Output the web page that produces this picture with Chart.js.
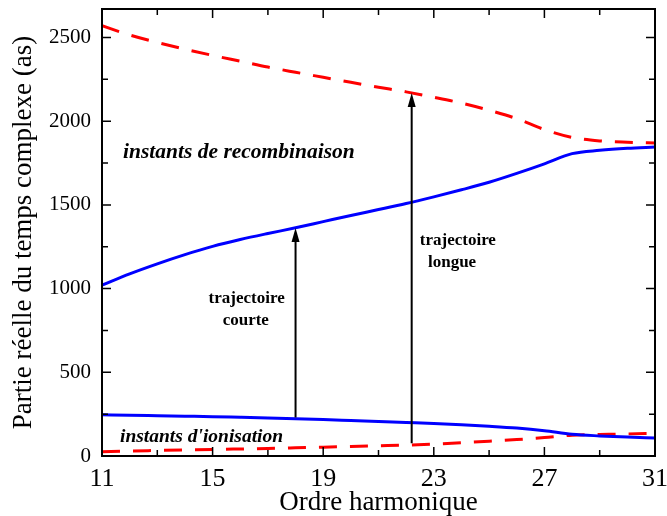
<!DOCTYPE html>
<html>
<head>
<meta charset="utf-8">
<style>
  html, body { margin: 0; padding: 0; background: #fff; }
  #wrap { width: 667px; height: 516px; }
</style>
</head>
<body>
<div id="wrap"><canvas id="tempsChart"></canvas></div>
<script src="https://cdn.jsdelivr.net/npm/chart.js"></script>
<script>
  // harmonic orders where each curve is sampled
  const ordres = [11, 12, 13, 14, 15, 16, 17, 18, 19, 20, 21, 22, 23, 24, 25, 26, 27, 28, 29, 30, 31];

  // real part of the complex times (as)
  const recombCourte = [1020, 1088, 1148, 1203, 1252, 1293, 1329, 1363, 1400, 1437, 1472, 1508, 1548, 1590, 1635, 1688, 1745, 1806, 1826, 1838, 1845];
  const recombLongue = [2570, 2515, 2470, 2430, 2393, 2358, 2323, 2292, 2262, 2232, 2203, 2175, 2143, 2108, 2065, 2015, 1950, 1903, 1882, 1874, 1870];
  const ionisCourte = [246, 244, 241, 238, 235, 231, 227, 223, 218, 212, 206, 200, 194, 187, 178, 167, 151, 130, 120, 113, 108];
  const ionisLongue = [26, 30, 33, 36, 39, 42, 45, 49, 53, 57, 61, 65, 71, 79, 88, 98, 110, 124, 128, 132, 135];

  const xTicks = [11, 15, 19, 23, 27, 31];
  const xMinorTicks = [13, 17, 21, 25, 29];
  const yTicks = [0, 500, 1000, 1500, 2000, 2500];
  const yMinorTicks = [250, 750, 1250, 1750, 2250];

  // arrows from ionisation to recombination
  const arrowOrdre = [18, 22.2];
  const arrowFrom = [230, 76];
  const arrowTo = [1362, 2169];

  const serif = "'Liberation Serif', 'Times New Roman', serif";

  const notes = [
    { text: "instants de recombinaison", x: 11.76, y: 1780, font: "italic bold 21.5px " + serif, align: "left" },
    { text: "instants d'ionisation", x: 11.65, y: 84, font: "italic bold 19.5px " + serif, align: "left" },
    { text: "trajectoire", x: 16.23, y: 913, font: "bold 17px " + serif, align: "center" },
    { text: "courte", x: 16.2, y: 782, font: "bold 17px " + serif, align: "center" },
    { text: "trajectoire", x: 23.87, y: 1260, font: "bold 17px " + serif, align: "center" },
    { text: "longue", x: 23.66, y: 1130, font: "bold 17px " + serif, align: "center" }
  ];

  function series(values) {
    return ordres.map((o, i) => ({ x: o, y: values[i] }));
  }

  function lineSet(values, color, dashed) {
    return {
      data: series(values),
      borderColor: color,
      borderWidth: 3,
      borderDash: dashed ? [18, 13] : [],
      pointRadius: 0,
      cubicInterpolationMode: "monotone",
      fill: false
    };
  }

  // frame, inward ticks, arrows and labels
  const decor = {
    id: "decor",
    afterDatasetsDraw(chart) {
      const ctx = chart.ctx;
      const area = chart.chartArea;
      const xs = chart.scales.x;
      const ys = chart.scales.y;
      ctx.save();

      // arrows
      ctx.strokeStyle = "#000";
      ctx.fillStyle = "#000";
      ctx.lineWidth = 2;
      arrowOrdre.forEach((o, i) => {
        const px = xs.getPixelForValue(o);
        const y0 = ys.getPixelForValue(arrowFrom[i]);
        const y1 = ys.getPixelForValue(arrowTo[i]);
        ctx.beginPath();
        ctx.moveTo(px, y0);
        ctx.lineTo(px, y1 + 10);
        ctx.stroke();
        ctx.beginPath();
        ctx.moveTo(px, y1);
        ctx.lineTo(px - 4, y1 + 14);
        ctx.lineTo(px + 4, y1 + 14);
        ctx.closePath();
        ctx.fill();
      });

      // labels
      ctx.textBaseline = "alphabetic";
      notes.forEach(n => {
        ctx.font = n.font;
        ctx.textAlign = n.align;
        ctx.fillText(n.text, xs.getPixelForValue(n.x), ys.getPixelForValue(n.y));
      });

      // ticks on all four sides
      ctx.lineWidth = 1.5;
      ctx.beginPath();
      const tickX = (vals, len) => vals.forEach(v => {
        const px = xs.getPixelForValue(v);
        ctx.moveTo(px, area.bottom); ctx.lineTo(px, area.bottom - len);
        ctx.moveTo(px, area.top); ctx.lineTo(px, area.top + len);
      });
      const tickY = (vals, len) => vals.forEach(v => {
        const py = ys.getPixelForValue(v);
        ctx.moveTo(area.left, py); ctx.lineTo(area.left + len, py);
        ctx.moveTo(area.right, py); ctx.lineTo(area.right - len, py);
      });
      tickX(xTicks, 9);
      tickX(xMinorTicks, 6);
      tickY(yTicks, 9);
      tickY(yMinorTicks, 6);
      ctx.stroke();

      ctx.lineWidth = 2;
      ctx.strokeRect(area.left, area.top, area.right - area.left, area.bottom - area.top);
      ctx.restore();
    }
  };

  new Chart(document.getElementById("tempsChart"), {
    type: "line",
    data: {
      datasets: [
        lineSet(recombLongue, "#ff0000", true),
        lineSet(recombCourte, "#0000ff", false),
        lineSet(ionisCourte, "#0000ff", false),
        lineSet(ionisLongue, "#ff0000", true)
      ]
    },
    options: {
      responsive: true,
      maintainAspectRatio: false,
      animation: false,
      layout: { padding: { top: 9, right: 12, left: 0, bottom: 0 } },
      plugins: { legend: { display: false }, tooltip: { enabled: false } },
      scales: {
        x: {
          type: "linear",
          min: 11,
          max: 31,
          afterBuildTicks(scale) { scale.ticks = xTicks.map(v => ({ value: v })); },
          afterFit(scale) {
            scale.height = 60;
            scale.paddingLeft = 0;
            scale.paddingRight = 0;
          },
          grid: { display: false, drawTicks: false },
          border: { display: false },
          ticks: {
            color: "#000",
            padding: 8,
            maxRotation: 0,
            font: { family: serif, size: 26 },
            callback: v => String(v)
          },
          title: {
            display: true,
            text: "Ordre harmonique",
            color: "#000",
            padding: { top: 0, bottom: 0 },
            font: { family: serif, size: 27, lineHeight: 1 }
          }
        },
        y: {
          min: 0,
          max: 2670,
          afterBuildTicks(scale) { scale.ticks = yTicks.map(v => ({ value: v })); },
          afterFit(scale) {
            scale.width = 102;
            scale.paddingTop = 0;
            scale.paddingBottom = 0;
          },
          grid: { display: false, drawTicks: false },
          border: { display: false },
          ticks: {
            color: "#000",
            padding: 11,
            font: { family: serif, size: 21 },
            callback: v => String(v)
          },
          title: {
            display: true,
            text: "Partie réelle du temps complexe (as)",
            color: "#000",
            padding: { top: 8, bottom: 0 },
            font: { family: serif, size: 27 }
          }
        }
      }
    },
    plugins: [decor]
  });
</script>
</body>
</html>
